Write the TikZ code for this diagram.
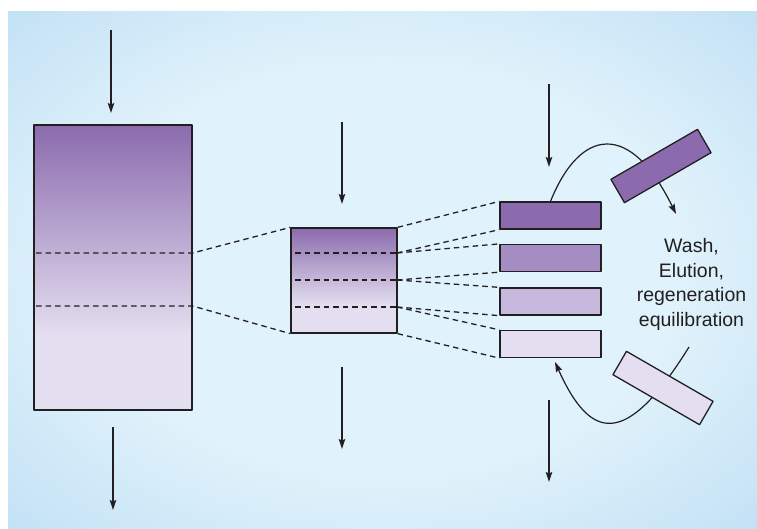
\documentclass[tikz,border=0pt]{standalone}
\usepackage{fontspec}
\newfontfamily\labelfont{Liberation Sans}
\usetikzlibrary{arrows.meta}
\definecolor{panelin}{HTML}{E0F2FB}
\definecolor{panelout}{HTML}{C2E1F5}
\definecolor{pdark}{HTML}{8B6BAD}
\definecolor{pmid}{HTML}{A58DC4}
\definecolor{psoft}{HTML}{C6B8DC}
\definecolor{plight}{HTML}{E4DFF0}
\definecolor{edge}{HTML}{231F20}
\pgfdeclareverticalshading{bandshade}{100bp}{color(0bp)=(plight); color(38bp)=(plight); color(75bp)=(pdark); color(100bp)=(pdark)}
\pgfdeclareradialshading{panelshade}{\pgfpoint{0bp}{0bp}}{color(0bp)=(panelin); color(20bp)=(panelin); color(36bp)=(panelout); color(50bp)=(panelout)}
\tikzset{
	column/.style={draw=edge, line width=1.3pt, shading=bandshade, inner sep=0pt},
	plate/.style={draw=edge, line width=1.3pt, minimum width=101pt, minimum height=27pt, inner sep=0pt},
	cut/.style={draw=edge, line width=1.3pt, dash pattern=on 5.5pt off 4pt},
	flow/.style={draw=edge, line width=1.2pt, -{Stealth[length=10pt, width=6.5pt, inset=1.5pt]}}
}
\begin{document}
\begin{tikzpicture}[x=1pt, y=-1pt, line join=round]
	\useasboundingbox (0, 0) rectangle (757, 528);
	% Background
	\shade [shading=panelshade] (8, 11) rectangle (757, 528);
	% Columns
	\node [column, minimum width=158pt, minimum height=285pt] (column-1) at (113, 267.5) {};
	\node [column, minimum width=106pt, minimum height=105pt] (column-2) at (344, 280.5) {};
	% Cuts of the first column
	\coordinate (lvl-1) at (36, 253);
	\coordinate (lvl-2) at (36, 306);
	\draw [cut] (lvl-1) -- (lvl-1 -| column-1.east) -- (column-2.north west);
	\draw [cut] (lvl-2) -- (lvl-2 -| column-1.east) -- (column-2.south west);
	% Cuts of the second column
	\coordinate (right-0) at (column-2.north east);
	\foreach \y [count=\x] in {253, 280, 307} {
		\coordinate (right-\x) at (397, \y);
		\draw [cut] (295, \y) -- (right-\x);
	}
	\coordinate (right-4) at (column-2.south east);
	% Plates
	\foreach \c/\y [count=\x] in {pdark/215.5, pmid/258, psoft/301.5, plight/344}
		\node [plate, fill=\c] (plate-\x) at (550.5, \y) {};
	\foreach \x [remember=\x as \lastx (initially 0)] in {1, ..., 4} {
		\draw [cut] (right-\lastx) -- (plate-\x.north west);
		\draw [cut] (right-\x) -- (plate-\x.south west);
	}
	% Swap loop
	\coordinate (rise-end) at (676, 214);
	\coordinate (return-start) at (689, 347);
	\coordinate (return-end) at (555, 362);
	\draw [flow] (plate-1.north) .. controls (580, 128) and (630, 120) .. (rise-end);
	\draw [flow] (return-start) .. controls (625, 450) and (590, 440) .. (return-end);
	\node [plate, fill=pdark, minimum width=100pt, rotate=30] (swap-1) at (661, 166) {};
	\node [plate, fill=plight, minimum width=100pt, rotate=-30] (swap-2) at (663, 388) {};
	\node [font=\labelfont\fontsize{19.5}{24.5}\selectfont, text=edge, align=center, inner sep=0pt] (steps) at (691.5, 284.5) {Wash,\\Elution,\\regeneration\\equilibration};
	% Flow arrows
	\foreach \x/\a/\b [count=\n] in {111/30/113, 113/427/510, 342/122/204, 342/367/449, 549/84/167, 549/400/482} {
		\coordinate (flow-\n-a) at (\x, \a);
		\coordinate (flow-\n-b) at (\x, \b);
		\draw [flow] (flow-\n-a) -- (flow-\n-b);
	}
\end{tikzpicture}
\end{document}
